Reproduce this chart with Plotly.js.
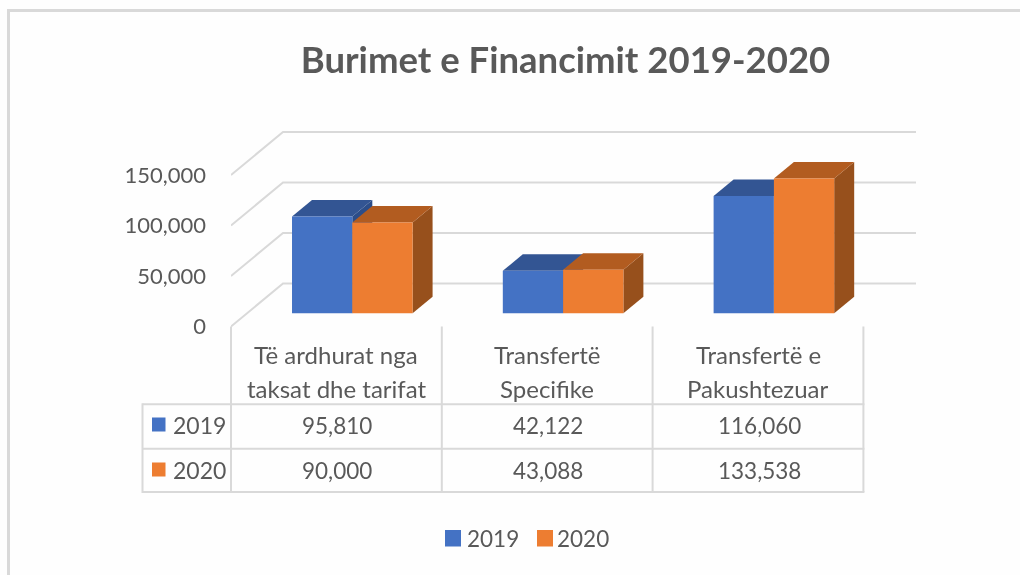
<!DOCTYPE html>
<html>
<head>
<meta charset="utf-8">
<script src="https://cdn.plot.ly/plotly-3.0.1.min.js"></script>
<style>
html,body{margin:0;padding:0;background:#fff;overflow:hidden}
#chart{width:1020px;height:575px;filter:blur(0.35px)}
</style>
</head>
<body>
<div id="chart"></div>
<script>
// ---- data ----
const categoryLines = [
  ["Të ardhurat nga", "taksat dhe tarifat"],
  ["Transfertë", "Specifike"],
  ["Transfertë e", "Pakushtezuar"]
];
const seriesNames = ["2019", "2020"];
const values2019 = [95810, 42122, 116060];
const values2020 = [90000, 43088, 133538];
const valueTicks = [0, 50000, 100000, 150000];
const titleText = "Burimet e Financimit 2019-2020";

// ---- style ----
const W = 1020, H = 575;
const frontColors = ["#4472C4", "#ED7D31"];
const topColors = ["#335593", "#B25C20"];
const sideColors = ["#2C4D89", "#97501C"];
const lineColor = "#D9D9D9";
const textColor = "#595959";
const fontFamily = "Lato, Carlito, sans-serif";
const allValues = [values2019, values2020];

const k = 1.01e-3;             // px per value unit
const colW = 210.8;            // px per category
const barShare = 0.572;
const barDepth = {dx: 20, dy: 16.5};
const floorDepth = {dx: 52, dy: 43};
const plotTop = 120, plotBottom = 345, plotRight = 916;
const fmt = v => v.toLocaleString("en-US");
const px = x => x / W;
const py = y => 1 - y / H;

// an axis range so that value 0 sits at pixel zeroY
const yRange = zeroY => [(zeroY - plotBottom) / k, (zeroY - plotTop) / k];
// an axis range so that index 0 sits at pixel centerX
const xRange = (left, centerX) => [(left - centerX) / colW, (plotRight - centerX) / colW];

const xs = categoryLines.map((_, i) => i);
const frontZeroY = 326.5, barZeroY = 313.3;
const frontLeft = 231, frontCenter = frontLeft + colW / 2;
const barCenter = 352.3;

const traces = seriesNames.map((name, s) => ({
  type: "bar", name, x: xs, y: allValues[s],
  xaxis: "x2", yaxis: "y2",
  marker: {color: frontColors[s], line: {width: 0}},
  hovertemplate: "%{y:,}<extra>" + name + "</extra>"
}));

const shapes = [];
const annotations = [];
const addLine = (x0, y0, x1, y1, w, c) => shapes.push({
  type: "line", xref: "paper", yref: "paper",
  x0: px(x0), y0: py(y0), x1: px(x1), y1: py(y1),
  layer: "above", line: {color: c || lineColor, width: w || 2}
});
const addText = (t, x, y, size) => annotations.push({
  text: t, xref: "paper", yref: "paper", x: px(x), y: py(y),
  xanchor: "center", yanchor: "middle", showarrow: false,
  font: {family: fontFamily, size: size, color: textColor}
});
const addRect = (x0, y0, x1, y1, c) => shapes.push({
  type: "rect", xref: "paper", yref: "paper",
  x0: px(x0), y0: py(y0), x1: px(x1), y1: py(y1),
  layer: "above", line: {width: 0}, fillcolor: c
});

// chart frame
addLine(7, 10.5, W, 10.5, 3);
addLine(8.5, 9, 8.5, H, 3);

// wall lines: diagonal from the front plane to the back plane, then along the back wall
const backX = -0.5 + floorDepth.dx / colW;
const wallEndX = xRange(frontLeft, frontCenter)[1];
valueTicks.forEach(v => {
  const backV = v + floorDepth.dy / k;
  shapes.push({
    type: "path", xref: "x", yref: "y", layer: "below",
    path: `M-0.5,${v} L${backX},${backV} L${wallEndX},${backV}`,
    line: {color: lineColor, width: 2}
  });
});

// 3-D faces of the bars, computed from the values
const barW = barShare / 2;
const ddx = barDepth.dx / colW, ddy = barDepth.dy / k;
seriesNames.forEach((_, s) => {
  allValues[s].forEach((v, i) => {
    const x0 = i + (s - 1) * barW, x1 = x0 + barW;
    shapes.push({
      type: "path", xref: "x2", yref: "y2", layer: "below", line: {width: 0},
      fillcolor: sideColors[s],
      path: `M${x1},0 L${x1 + ddx},${ddy} L${x1 + ddx},${v + ddy} L${x1},${v} Z`
    });
    shapes.push({
      type: "path", xref: "x2", yref: "y2", layer: "below", line: {width: 0},
      fillcolor: topColors[s],
      path: `M${x0},${v} L${x0 + ddx},${v + ddy} L${x1 + ddx},${v + ddy} L${x1},${v} Z`
    });
  });
});

// data table
const tableLeft = 142.5, rowTop = 404.3, rowMid = 448.7, rowBottom = 492;
const colX = [0, 1, 2, 3].map(i => frontLeft + i * colW);
colX.forEach(x => addLine(x, 326.5, x, rowBottom));
addLine(tableLeft, rowTop, colX[3] + 1, rowTop);
addLine(tableLeft, rowMid, colX[3] + 1, rowMid);
addLine(tableLeft, rowBottom, colX[3] + 1, rowBottom);
addLine(tableLeft, rowTop - 1, tableLeft, rowBottom + 1);

categoryLines.forEach((lines, i) => {
  const cx = frontCenter + i * colW;
  addText(lines[0], cx, 354, 24);
  addText(lines[1], cx, 388, 24);
  addText(fmt(values2019[i]), cx + 1, 425, 22.5);
  addText(fmt(values2020[i]), cx + 1, 470, 22.5);
});
seriesNames.forEach((name, s) => {
  const cy = s === 0 ? 425 : 470;
  addRect(152, cy - 7.5, 165.5, cy + 6.5, frontColors[s]);
  addText(name, 199.5, cy, 23);
  // legend
  const lx = s === 0 ? 445 : 537;
  addRect(lx, 530, lx + 16, 546.5, frontColors[s]);
  addText(name, s === 0 ? 493 : 583, 538, 22.5);
});

const layout = {
  width: W, height: H,
  margin: {l: 0, r: 0, t: 0, b: 0, pad: 0},
  paper_bgcolor: "#FEFEFE", plot_bgcolor: "rgba(0,0,0,0)",
  font: {family: fontFamily, color: textColor, size: 22},
  showlegend: false,
  title: {text: "<b>" + titleText + "</b>", x: 565.5 / W, xanchor: "center",
          y: py(60), yanchor: "middle", font: {family: fontFamily, size: 36.5, color: textColor}},
  barmode: "group", bargap: 1 - barShare, bargroupgap: 0,
  // front plane: carries the value labels and the wall lines
  xaxis: {domain: [px(frontLeft), px(plotRight)], range: xRange(frontLeft, frontCenter),
          visible: false, fixedrange: true, anchor: "y"},
  yaxis: {domain: [py(plotBottom), py(plotTop)], range: yRange(frontZeroY), anchor: "x",
          tickvals: valueTicks, tickformat: ",", ticks: "", ticklabelstandoff: 24,
          showgrid: false, zeroline: false, showline: false, fixedrange: true,
          tickfont: {family: fontFamily, size: 22, color: textColor}},
  // bar plane
  xaxis2: {domain: [px(frontLeft), px(plotRight)], range: xRange(frontLeft, barCenter),
           visible: false, fixedrange: true, anchor: "y2"},
  yaxis2: {domain: [py(plotBottom), py(plotTop)], range: yRange(barZeroY), anchor: "x2",
           visible: false, fixedrange: true},
  shapes, annotations
};

Plotly.newPlot("chart", traces, layout, {displayModeBar: false, responsive: false});
</script>
</body>
</html>
